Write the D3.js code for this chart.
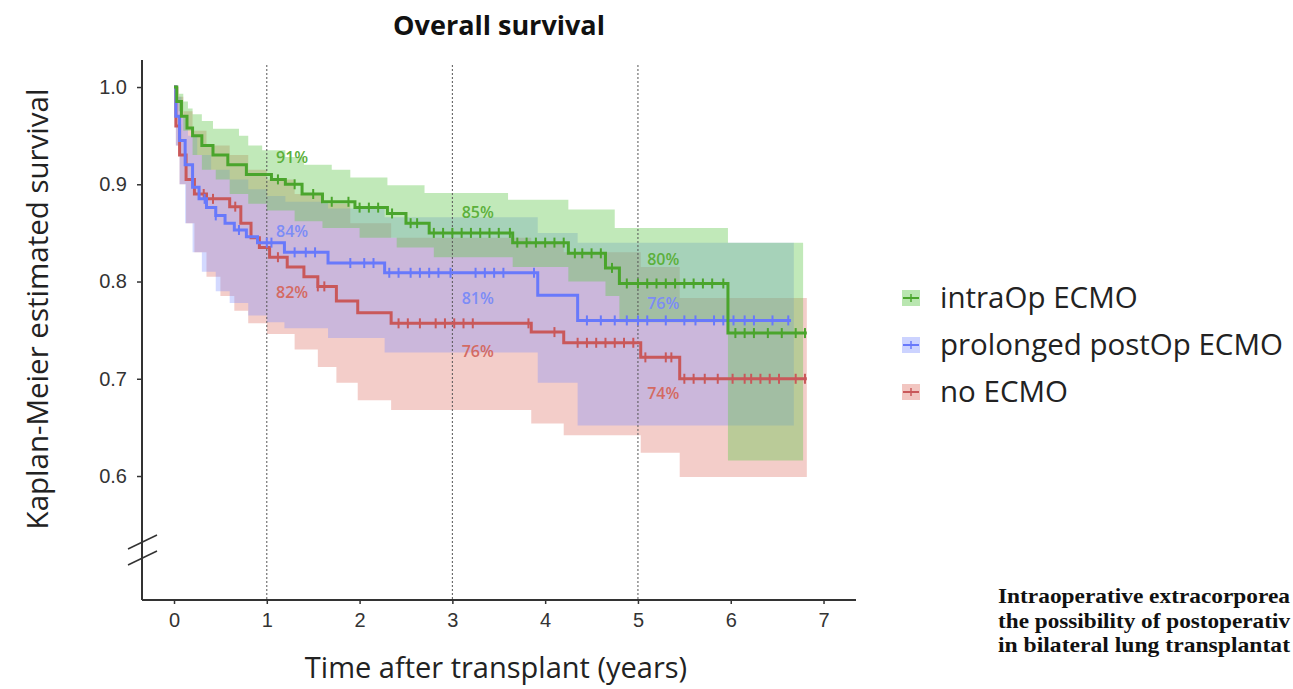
<!DOCTYPE html>
<html>
<head>
<meta charset="utf-8">
<script src="https://cdn.jsdelivr.net/npm/d3@7/dist/d3.min.js"></script>
<style>
  html, body { margin: 0; padding: 0; background: #fff; overflow: hidden; }
  svg { display: block; }
</style>
</head>
<body>
<svg id="chart" width="1293" height="689"></svg>
<script>
// ---------------- DATA ----------------
const groups = ["intraOp ECMO", "prolonged postOp ECMO", "no ECMO"];
const xTicks = [0, 1, 2, 3, 4, 5, 6, 7];
const yTicks = [0.6, 0.7, 0.8, 0.9, 1.0];
const landmarkYears = [1, 3, 5];

// Kaplan-Meier step estimates [time (years), survival]
const greenKM = [[0,1],[0.03,0.985],[0.08,0.97],[0.14,0.958],[0.2,0.95],[0.3,0.94],[0.42,0.93],[0.58,0.92],[0.78,0.91],[1.05,0.905],[1.2,0.9],[1.38,0.89],[1.6,0.882],[1.95,0.876],[2.3,0.87],[2.5,0.86],[2.75,0.85],[3.65,0.84],[4.25,0.829],[4.65,0.814],[4.8,0.798],[5.97,0.747],[6.82,0.747]];
const blueKM = [[0,1],[0.02,0.97],[0.06,0.945],[0.12,0.92],[0.2,0.897],[0.27,0.885],[0.35,0.876],[0.45,0.868],[0.55,0.86],[0.65,0.853],[0.78,0.846],[0.9,0.84],[1.19,0.83],[1.66,0.819],[2.27,0.809],[3.92,0.786],[4.35,0.76],[6.65,0.76]];
const redKM = [[0,1],[0.02,0.96],[0.06,0.93],[0.13,0.905],[0.22,0.89],[0.35,0.885],[0.6,0.877],[0.72,0.86],[0.83,0.845],[0.92,0.835],[1.03,0.825],[1.22,0.815],[1.4,0.805],[1.55,0.795],[1.75,0.78],[1.98,0.768],[2.34,0.757],[3.85,0.748],[4.2,0.737],[5.03,0.722],[5.45,0.70],[6.82,0.70]];

// Confidence bands: upper and lower step limits [time, value]
const greenUpper = [[0,1],[0.05,0.993],[0.1,0.985],[0.15,0.978],[0.2,0.972],[0.3,0.965],[0.42,0.957],[0.7,0.95],[0.8,0.94],[0.95,0.935],[1.2,0.928],[1.4,0.92],[1.7,0.915],[1.9,0.907],[2.3,0.899],[2.7,0.891],[3.6,0.884],[4.25,0.874],[4.75,0.855],[5.97,0.84],[6.78,0.84]];
const greenLower = [[0,1],[0.05,0.975],[0.1,0.955],[0.2,0.93],[0.3,0.915],[0.45,0.905],[0.6,0.89],[0.8,0.88],[1.0,0.873],[1.3,0.862],[1.6,0.855],[2.0,0.845],[2.4,0.835],[2.8,0.825],[3.65,0.815],[4.25,0.8],[4.65,0.785],[4.8,0.758],[5.97,0.616],[6.78,0.616]];
const blueUpper = [[0,1],[0.03,0.99],[0.08,0.97],[0.15,0.95],[0.25,0.93],[0.4,0.915],[0.6,0.905],[0.8,0.895],[1.0,0.888],[1.2,0.882],[1.66,0.875],[2.27,0.866],[3.92,0.85],[4.35,0.84],[6.68,0.84]];
const blueLower = [[0,1],[0.02,0.94],[0.06,0.9],[0.12,0.86],[0.2,0.83],[0.3,0.81],[0.45,0.79],[0.6,0.778],[0.8,0.765],[1.0,0.758],[1.19,0.752],[1.66,0.742],[2.27,0.727],[3.92,0.696],[4.35,0.652],[6.68,0.652]];
const redUpper = [[0,1],[0.05,0.99],[0.1,0.975],[0.2,0.955],[0.35,0.94],[0.6,0.93],[0.8,0.915],[1.0,0.905],[1.3,0.89],[1.6,0.88],[1.9,0.86],[2.34,0.845],[3.85,0.84],[4.2,0.83],[5.03,0.815],[5.45,0.783],[6.82,0.783]];
const redLower = [[0,1],[0.02,0.94],[0.06,0.9],[0.13,0.86],[0.22,0.83],[0.35,0.805],[0.5,0.785],[0.65,0.77],[0.8,0.757],[1.0,0.746],[1.3,0.73],[1.55,0.712],[1.75,0.696],[1.98,0.678],[2.34,0.668],[3.85,0.654],[4.2,0.642],[5.03,0.624],[5.45,0.599],[6.82,0.599]];

// Censoring times (years)
const greenCensor = [1.12,1.3,1.5,1.7,1.88,2.0,2.1,2.2,2.35,2.55,2.62,2.8,2.9,3.0,3.1,3.2,3.3,3.4,3.5,3.62,3.7,3.8,3.9,4.0,4.1,4.2,4.32,4.4,4.5,4.6,4.72,4.88,5.0,5.1,5.2,5.3,5.4,5.5,5.6,5.7,5.8,5.92,6.05,6.15,6.25,6.4,6.55,6.7,6.8];
const blueCensor = [0.33,0.45,0.7,1.0,1.05,1.3,1.42,1.52,1.9,2.05,2.15,2.32,2.42,2.55,2.65,2.75,2.85,2.98,3.25,3.35,3.45,3.55,3.88,4.45,4.6,4.75,4.88,5.0,5.1,5.3,5.5,5.62,5.82,5.92,6.03,6.15,6.25,6.45,6.62];
const redCensor = [0.32,0.42,0.66,1.12,1.55,1.62,2.42,2.52,2.65,2.82,2.92,3.02,3.12,3.22,3.82,4.1,4.35,4.45,4.55,4.65,4.75,4.85,4.95,5.08,5.3,5.36,5.5,5.6,5.72,5.86,6.02,6.15,6.22,6.32,6.42,6.52,6.7,6.8];

// Landmark annotations: [label, time, value] for text placement
const greenNotes = [["91%",1.1,0.922],["85%",3.1,0.865],["80%",5.1,0.817]];
const blueNotes = [["84%",1.1,0.846],["81%",3.1,0.777],["76%",5.1,0.772]];
const redNotes = [["82%",1.1,0.783],["76%",3.1,0.722],["74%",5.1,0.679]];

// Caption as visible in the reference (cut by the page edge there)
const captionLines = [
  "Intraoperative extracorporea",
  "the possibility of postoperativ",
  "in bilateral lung transplantat"
];

// ---------------- DRAW ----------------
const svg = d3.select("#chart");
const x = d3.scaleLinear().domain([-0.345, 7.35]).range([142, 856]);
const y = d3.scaleLinear().domain([0.4725, 1.0278]).range([600, 60]);

const series = [
  {name: groups[0], km: greenKM, up: greenUpper, lo: greenLower, cens: greenCensor, notes: greenNotes,
   line: "#4aa52c", fill: "rgb(100,200,80)", fillOp: 0.4, text: "#5cb03c"},
  {name: groups[1], km: blueKM, up: blueUpper, lo: blueLower, cens: blueCensor, notes: blueNotes,
   line: "#6879fb", fill: "rgb(120,140,255)", fillOp: 0.33, text: "#7c8cf6"},
  {name: groups[2], km: redKM, up: redUpper, lo: redLower, cens: redCensor, notes: redNotes,
   line: "#c9585a", fill: "rgb(222,112,100)", fillOp: 0.35, text: "#d46a62"}
];

function stepVal(arr, t) {
  let v = arr[0][1];
  for (const p of arr) { if (p[0] <= t) v = p[1]; else break; }
  return v;
}
function bandData(up, lo) {
  const ts = Array.from(new Set(up.map(d => d[0]).concat(lo.map(d => d[0])))).sort((a, b) => a - b);
  const end = Math.min(up[up.length - 1][0], lo[lo.length - 1][0]);
  return ts.filter(t => t <= end).map(t => ({t, u: stepVal(up, t), l: stepVal(lo, t)}));
}

const area = d3.area().curve(d3.curveStepAfter)
  .x(d => x(d.t)).y0(d => y(d.l)).y1(d => y(d.u));
const line = d3.line().curve(d3.curveStepAfter).x(d => x(d[0])).y(d => y(d[1]));

// bands: red, blue, green
const bandOrder = [series[2], series[1], series[0]];
svg.append("g").selectAll("path").data(bandOrder).join("path")
  .attr("d", s => area(bandData(s.up, s.lo)))
  .attr("fill", s => s.fill).attr("fill-opacity", s => s.fillOp).attr("stroke", "none");

// landmark dashed lines
svg.append("g").selectAll("line").data(landmarkYears).join("line")
  .attr("x1", d => x(d)).attr("x2", d => x(d))
  .attr("y1", 65).attr("y2", 600)
  .attr("stroke", "#555").attr("stroke-width", 1).attr("stroke-dasharray", "2,2");

// KM lines
const lineOrder = [series[2], series[1], series[0]];
lineOrder.forEach(s => {
  svg.append("path").attr("d", line(s.km)).attr("fill", "none")
    .attr("stroke", s.line).attr("stroke-width", 3).attr("stroke-linejoin", "miter");
  svg.append("g").selectAll("line").data(s.cens).join("line")
    .attr("x1", d => x(d)).attr("x2", d => x(d))
    .attr("y1", d => y(stepVal(s.km, d)) - 5).attr("y2", d => y(stepVal(s.km, d)) + 5)
    .attr("stroke", s.line).attr("stroke-width", 2);
});

// percentage annotations
series.forEach(s => {
  svg.append("g").selectAll("text").data(s.notes).join("text")
    .attr("x", d => x(d[1])).attr("y", d => y(d[2]))
    .attr("font-family", "Open Sans, sans-serif").attr("font-size", 16).attr("font-weight", 600)
    .attr("fill", s.text).text(d => d[0]);
});

// axes
const axisColor = "#333";
const xAxis = svg.append("g").attr("transform", "translate(0,600)")
  .call(d3.axisBottom(x).tickValues(xTicks).tickSize(4).tickPadding(9).tickFormat(d3.format("d")));
const yAxis = svg.append("g").attr("transform", "translate(142,0)")
  .call(d3.axisLeft(y).tickValues(yTicks).tickSize(5).tickPadding(10).tickFormat(d3.format(".1f")));
[xAxis, yAxis].forEach(a => {
  a.select(".domain").attr("stroke", axisColor).attr("stroke-width", 2);
  a.selectAll(".tick line").attr("stroke", axisColor).attr("stroke-width", 1.5);
  a.selectAll(".tick text").attr("fill", "#333").attr("font-size", 20)
    .attr("font-family", "Liberation Sans, Arial, sans-serif");
});
xAxis.select(".domain").attr("d", `M142,0H856`);
yAxis.select(".domain").attr("d", `M0,60V600`);

// axis break marks
const brk = svg.append("g").attr("stroke", "#333").attr("stroke-width", 1.5);
[0, 16].forEach(o => {
  brk.append("line").attr("x1", 128).attr("y1", 549 + o).attr("x2", 157).attr("y2", 535 + o);
});

// title & axis labels
svg.append("text").attr("x", 499).attr("y", 35).attr("text-anchor", "middle")
  .attr("font-family", "Open Sans, sans-serif").attr("font-weight", 700).attr("font-size", 27)
  .attr("fill", "#111").text("Overall survival");
svg.append("text").attr("transform", "translate(48,309) rotate(-90)").attr("text-anchor", "middle")
  .attr("font-family", "Open Sans, sans-serif").attr("font-size", 29.5).attr("fill", "#222")
  .text("Kaplan-Meier estimated survival");
svg.append("text").attr("x", 496).attr("y", 678).attr("text-anchor", "middle")
  .attr("font-family", "Open Sans, sans-serif").attr("font-size", 29).attr("fill", "#222")
  .text("Time after transplant (years)");

// legend
const legend = svg.append("g").attr("transform", "translate(902,298)");
series.forEach((s, i) => {
  const g = legend.append("g").attr("transform", `translate(0,${i * 47})`);
  g.append("rect").attr("x", 0).attr("y", -8).attr("width", 18).attr("height", 16)
    .attr("fill", s.fill).attr("fill-opacity", s.fillOp + 0.05);
  g.append("line").attr("x1", 1).attr("x2", 17).attr("y1", 0).attr("y2", 0)
    .attr("stroke", s.line).attr("stroke-width", 2);
  g.append("line").attr("x1", 9).attr("x2", 9).attr("y1", -4).attr("y2", 4)
    .attr("stroke", s.line).attr("stroke-width", 1.5);
  g.append("text").attr("x", 38).attr("y", 10)
    .attr("font-family", "Open Sans, sans-serif").attr("font-size", 29.5).attr("fill", "#222")
    .text(s.name);
});

// caption
svg.append("g").selectAll("text").data(captionLines).join("text")
  .attr("x", 998).attr("y", (d, i) => 603 + i * 24.5)
  .attr("font-family", "Liberation Serif, Times New Roman, serif").attr("font-weight", 700)
  .attr("font-size", 22).attr("textLength", 292).attr("lengthAdjust", "spacingAndGlyphs")
  .attr("fill", "#111").text(d => d);
</script>
</body>
</html>
